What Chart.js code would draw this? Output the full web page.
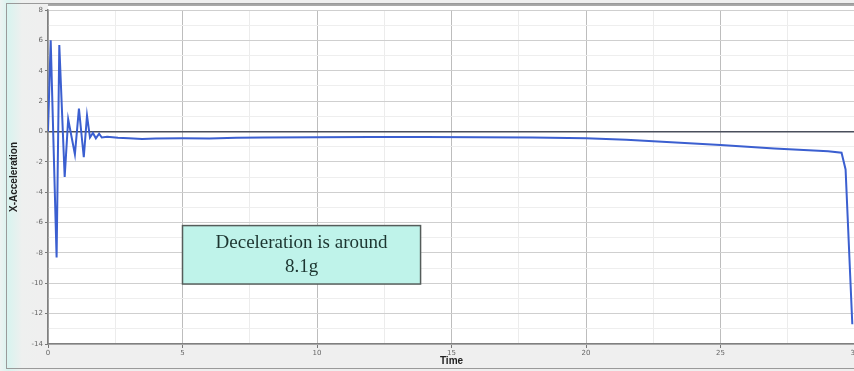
<!DOCTYPE html>
<html>
<head>
<meta charset="utf-8">
<script src="https://cdn.jsdelivr.net/npm/chart.js@4/dist/chart.umd.min.js"></script>
<style>
  html, body { margin: 0; padding: 0; overflow: hidden; background: #efefef; }
  #wrap { position: relative; width: 870px; height: 371px;
    background: linear-gradient(to right, #eef3f2 0px, #d9f3ef 8px, #eef0ef 22px, #efefef 40px); }
  #frame { position: absolute; left: 6px; top: 3px; width: 860px; height: 364px;
    border: 1px solid #9a9a9a; pointer-events: none; }
</style>
</head>
<body>
<div id="wrap">
  <canvas id="c" width="870" height="371"></canvas>
  <div id="frame"></div>
</div>
<script>
// ---- data ----
const timeValues = [0, 0.1, 0.32, 0.42, 0.62, 0.75, 1.0, 1.15, 1.33, 1.45, 1.56, 1.67, 1.78, 1.9, 2.0,
  2.2, 2.6, 3.0, 3.5, 4.0, 5.0, 6.0, 7.0, 8.0, 10.0, 12.0, 14.0, 16.0, 18.0, 20.0,
  21.5, 23.0, 25.0, 27.0, 29.0, 29.5, 29.65, 29.9];
const accelValues = [0, 6.0, -8.3, 5.7, -3.0, 0.8, -1.5, 1.5, -1.7, 1.05, -0.4, -0.1, -0.45, -0.15, -0.4,
  -0.35, -0.42, -0.45, -0.5, -0.47, -0.45, -0.46, -0.42, -0.4, -0.38, -0.37, -0.37, -0.38, -0.4, -0.45,
  -0.55, -0.7, -0.9, -1.12, -1.3, -1.4, -2.5, -12.7];
const xTickLabels = [0, 5, 10, 15, 20, 25, 30];
const yTickLabels = [8, 6, 4, 2, 0, -2, -4, -6, -8, -10, -12, -14];
const xTitle = 'Time';
const yTitle = 'X-Acceleration';
const noteLines = ['Deceleration is around', '8.1g'];
const noteBox = { x0: 5.0, x1: 13.85, y0: -6.2, y1: -10.05 };

const points = timeValues.map((t, i) => ({ x: t, y: accelValues[i] }));

const plotBg = {
  id: 'plotBg',
  beforeDraw(chart) {
    const { ctx, chartArea: a } = chart;
    ctx.save();
    ctx.fillStyle = '#ffffff';
    ctx.fillRect(a.left, a.top - 5, a.right - a.left, a.bottom - a.top + 5);
    ctx.strokeStyle = '#8c8c8c';
    ctx.lineWidth = 1.5;
    ctx.beginPath();
    ctx.moveTo(a.left, a.top - 5); ctx.lineTo(a.right + 10, a.top - 5);
    ctx.stroke();
    ctx.restore();
  },
  afterDatasetsDraw(chart) {
    const { ctx, scales: { x, y } } = chart;
    const l = x.getPixelForValue(noteBox.x0), r = x.getPixelForValue(noteBox.x1);
    const t = y.getPixelForValue(noteBox.y0), b = y.getPixelForValue(noteBox.y1);
    ctx.save();
    ctx.fillStyle = '#bff3ea';
    ctx.fillRect(l, t, r - l, b - t);
    ctx.strokeStyle = '#555c5a';
    ctx.lineWidth = 1.5;
    ctx.strokeRect(l, t, r - l, b - t);
    ctx.fillStyle = '#1c3530';
    ctx.font = '19px "Liberation Serif", "DejaVu Serif", serif';
    ctx.textAlign = 'center';
    ctx.textBaseline = 'middle';
    const cx = (l + r) / 2, cy = (t + b) / 2;
    ctx.fillText(noteLines[0], cx, cy - 12);
    ctx.fillText(noteLines[1], cx, cy + 12);
    ctx.restore();
  }
};

new Chart(document.getElementById('c'), {
  type: 'scatter',
  data: {
    datasets: [{
      data: points,
      showLine: true,
      borderColor: '#3b5fd0',
      borderWidth: 2,
      pointRadius: 0,
      tension: 0,
      fill: false
    }]
  },
  options: {
    responsive: false,
    animation: false,
    layout: { padding: { left: 8, top: 10, right: 15, bottom: 4 } },
    plugins: { legend: { display: false }, tooltip: { enabled: false } },
    scales: {
      x: {
        type: 'linear', min: 0, max: 30,
        afterBuildTicks(s) { s.ticks = []; for (let v = 0; v <= 30; v += 2.5) s.ticks.push({ value: v }); },
        afterFit(s) { s.height = 23; },
        ticks: {
          autoSkip: false, maxRotation: 0,
          font: { size: 7, family: 'DejaVu Sans' }, color: '#666',
          padding: 1,
          callback: v => xTickLabels.includes(v) ? String(v) : ''
        },
        grid: {
          color: c => (c.tick && c.tick.value % 5 === 0) ? '#bdbdbd' : '#ececec',
          tickLength: 4,
          tickColor: c => (c.tick && c.tick.value % 5 === 0) ? '#777' : 'rgba(0,0,0,0)'
        },
        border: { color: '#808080', width: 1.5 },
        title: { display: true, text: xTitle, font: { size: 10, weight: 'bold', family: 'Liberation Sans' }, color: '#222', padding: { top: -3, bottom: 0 } }
      },
      y: {
        type: 'linear', min: -14, max: 8,
        afterBuildTicks(s) { s.ticks = []; for (let v = -14; v <= 8; v += 1) s.ticks.push({ value: v }); },
        afterFit(s) { s.width = 40; },
        ticks: {
          autoSkip: false,
          font: { size: 7, family: 'DejaVu Sans' }, color: '#666',
          padding: 2,
          callback: v => yTickLabels.includes(v) ? String(v) : ''
        },
        grid: {
          color: c => !c.tick ? '#ddd' : (c.tick.value === 0 ? '#4a4f5c' : (c.tick.value % 2 === 0 ? '#cfcfcf' : '#eeeeee')),
          lineWidth: c => (c.tick && c.tick.value === 0) ? 1.5 : 1,
          tickLength: 3,
          tickColor: c => (c.tick && c.tick.value % 2 === 0) ? '#777' : 'rgba(0,0,0,0)'
        },
        border: { color: '#808080', width: 1.5 },
        title: { display: true, text: yTitle, font: { size: 10, weight: 'bold', family: 'Liberation Sans' }, color: '#222', padding: { top: 0, bottom: 2 } }
      }
    }
  },
  plugins: [plotBg]
});
</script>
</body>
</html>
